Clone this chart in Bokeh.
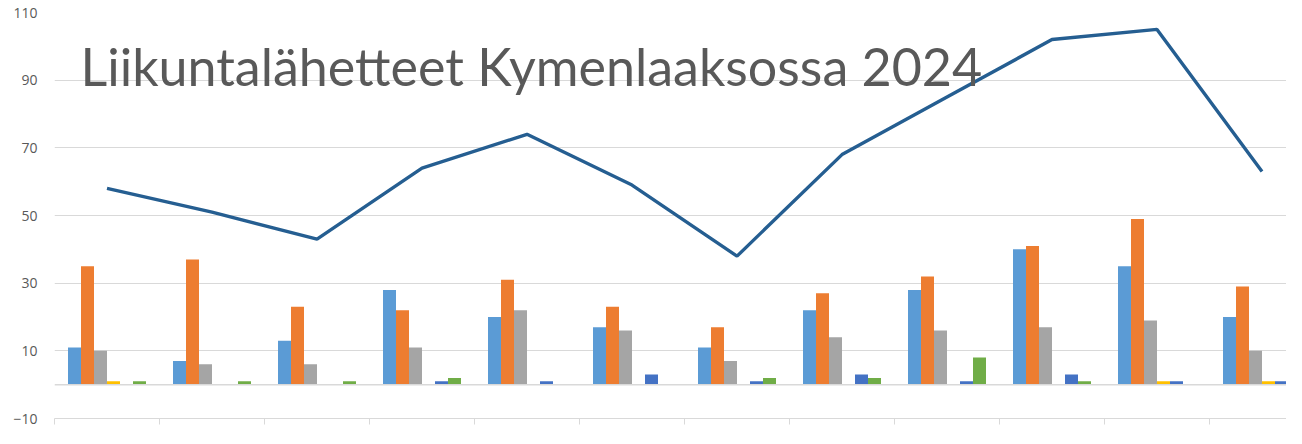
import numpy as np
from bokeh.plotting import figure
from bokeh.models import ColumnDataSource, Range1d, LinearAxis, FixedTicker, Span, Label
from bokeh.transform import dodge
from bokeh.embed import file_html
from bokeh.resources import INLINE

months = ["Tammi", "Helmi", "Maalis", "Huhti", "Touko", "Kesä",
          "Heinä", "Elo", "Syys", "Loka", "Marras", "Joulu"]
series_a = [11, 7, 13, 28, 20, 17, 11, 22, 28, 40, 35, 20]
series_b = [35, 37, 23, 22, 31, 23, 17, 27, 32, 41, 49, 29]
series_c = [10, 6, 6, 11, 22, 16, 7, 14, 16, 17, 19, 10]
series_d = [1, 0, 0, 0, 0, 0, 0, 0, 0, 0, 1, 1]
series_e = [0, 0, 0, 1, 1, 3, 1, 3, 1, 3, 1, 1]
series_f = [1, 1, 1, 2, 0, 0, 2, 2, 8, 1, 0, 2]
total = [58, 51, 43, 64, 74, 59, 38, 68, 85, 102, 105, 63]
y_ticks = [-10, 10, 30, 50, 70, 90, 110]
title_text = "Liikuntalähetteet Kymenlaaksossa 2024"

colors = ["#5B9BD5", "#ED7D31", "#A5A5A5", "#FFC000", "#4472C4", "#70AD47"]
names = ["a", "b", "c", "d", "e", "f"]
values = [series_a, series_b, series_c, series_d, series_e, series_f]

src = ColumnDataSource(dict(x=np.arange(len(months)) + 0.5, month=months,
                            total=total, **{n: v for n, v in zip(names, values)}))

LEFT = 54
W = 1286
p = figure(width=W, height=428, output_backend="svg", toolbar_location=None,
           x_range=Range1d(0, (W - LEFT) / 105), y_range=Range1d(-10, 110),
           min_border_left=LEFT, min_border_right=0, min_border_top=12, min_border_bottom=10,
           x_axis_location=None)
p.outline_line_color = None
p.background_fill_color = "white"

bw = 13 / 105
for i, (n, c) in enumerate(zip(names, colors)):
    p.vbar(x=dodge("x", (i - 2.5) * bw, range=p.x_range), top=n, bottom=0,
           width=bw, source=src, fill_color=c, line_color=None)

p.line(x="x", y="total", source=src, line_color="#255E91", line_width=3.4)

p.ygrid.ticker = FixedTicker(ticks=y_ticks)
p.ygrid.grid_line_color = "#D9D9D9"
p.ygrid.grid_line_width = 1
p.xgrid.grid_line_color = None
p.add_layout(Span(location=0, dimension="width", line_color="#D9D9D9", line_width=1.5), "center")

ya = p.yaxis[0]
ya.ticker = FixedTicker(ticks=y_ticks)
ya.axis_line_color = None
ya.major_tick_line_color = None
ya.minor_tick_line_color = None
ya.major_label_text_color = "#595959"
ya.major_label_text_font = "Open Sans"
ya.major_label_text_font_size = "14px"
ya.major_label_standoff = 11

bounds = list(range(0, 13))
xa = LinearAxis(ticker=FixedTicker(ticks=bounds))
xa.axis_line_color = "#D9D9D9"
xa.major_tick_line_color = "#D9D9D9"
xa.major_tick_in = 0
xa.major_tick_out = 6
xa.minor_tick_line_color = None
xa.major_label_overrides = {b: "" for b in bounds}
xa.major_label_standoff = 0
p.add_layout(xa, "below")

p.add_layout(Label(x=26 / 105, y=94.3, text=title_text, text_font="Lato",
                   text_font_size="52px", text_color="#595959", text_baseline="alphabetic"))

open("out.html", "w").write(file_html(p, INLINE))
